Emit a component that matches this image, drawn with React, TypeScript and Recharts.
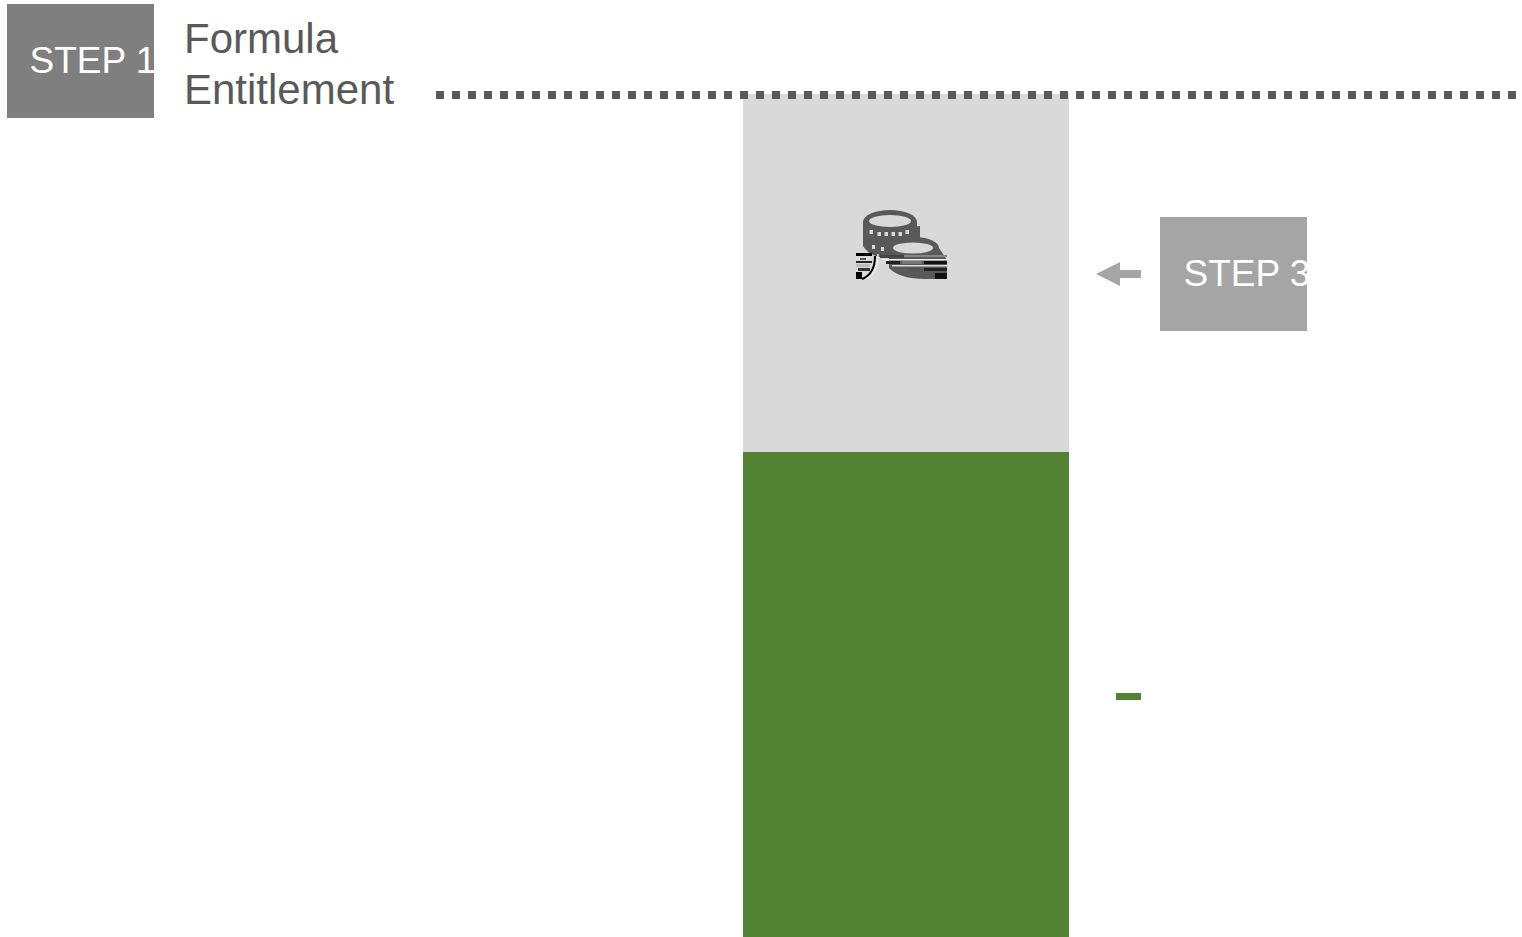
import React from "react";
import { BarChart, Bar, XAxis, YAxis, ReferenceLine } from "recharts";

const categories = ["Funding"];
const fundedValues = [485];
const remainingValues = [358];
const entitlementValue = 842;
const stepLabels = ["STEP 1", "STEP 3"];
const titleLines = ["Formula", "Entitlement"];

const data = categories.map((name, i) => ({
  name,
  funded: fundedValues[i],
  remaining: remainingValues[i],
}));

const FONT = "'Liberation Sans', Arial, sans-serif";
const GREY_TEXT = "#595959";
const GREY_BAR = "#D9D9D9";
const GREEN = "#548235";

const EntitlementLine = (props: any) => (
  <line x1={436} x2={1522} y1={props.y1} y2={props.y2} stroke={GREY_TEXT} strokeWidth={8} strokeDasharray="8 8" />
);

const Coins = () => (
  <g>
    <path d="M863 232 L863 246 Q870 258 890 258 L920 258 L920 226 Z" fill={GREY_TEXT} />
    <ellipse cx={890} cy={222} rx={27} ry={12} fill={GREY_TEXT} />
    <path d="M863 222 L863 232 Q870 244 890 244 Q910 244 917 232 L917 222 Z" fill={GREY_TEXT} />
    <ellipse cx={890} cy={221} rx={21} ry={6} fill={GREY_BAR} />
    {[871, 879, 886, 893, 900, 907].map((x, i) => (
      <rect key={x} x={x - 1.5} y={i === 0 || i === 5 ? 230 : 232} width={3.5} height={4} fill={GREY_BAR} />
    ))}
    <rect x={872} y={245} width={3} height={4} fill={GREY_BAR} />
    <rect x={881} y={247} width={3} height={4} fill={GREY_BAR} />
    <ellipse cx={914} cy={248} rx={25} ry={11} fill={GREY_TEXT} />
    <path d="M889 248 L889 268 Q900 279 925 279 L947 279 L947 260 L939 248 Z" fill={GREY_TEXT} />
    <ellipse cx={913} cy={248} rx={20} ry={5.5} fill={GREY_BAR} />
    <rect x={856} y={253} width={16} height={3} fill="#000" />
    <rect x={856} y={257} width={14} height={3} fill="#ddd" />
    <rect x={860} y={258} width={6} height={2} fill="#555" />
    <rect x={856} y={261} width={16} height={2} fill="#222" />
    <rect x={856} y={264} width={14} height={3} fill="#bbb" />
    <rect x={858} y={268} width={12} height={3} fill="#333" />
    <rect x={856} y={272} width={6} height={7} fill="#000" />
    <path d="M862 279 Q875 274 875 256" stroke="#000" strokeWidth={2} fill="none" />
    <path d="M866 279 Q878 274 878 254" stroke="#eee" strokeWidth={1.5} fill="none" />
    <rect x={880} y={255} width={24} height={3} fill="#444" />
    <rect x={904} y={255} width={43} height={2} fill="#888" />
    <rect x={884} y={259} width={63} height={1.5} fill="#eee" />
    <rect x={886} y={261} width={14} height={3} fill="#222" />
    <rect x={902} y={261} width={20} height={3} fill="#777" />
    <rect x={924} y={261} width={23} height={3} fill="#111" />
    <rect x={892} y={265} width={55} height={1.5} fill="#ddd" />
    <rect x={908} y={268} width={12} height={3} fill="#555" />
    <rect x={924} y={268} width={23} height={3} fill="#222" />
    <rect x={935} y={273} width={12} height={6} fill="#111" />
  </g>
);

const Annotations = () => (
  <svg width={1522} height={937} style={{ position: "absolute", left: 0, top: 0 }}>
    <defs>
      <clipPath id="step1"><rect x={7} y={4} width={147} height={114} /></clipPath>
      <clipPath id="step3"><rect x={1160} y={217} width={147} height={114} /></clipPath>
    </defs>
    <rect x={7} y={4} width={147} height={114} fill="#7F7F7F" />
    <text x={29.5} y={73} fontFamily={FONT} fontSize={37} fill="#fff" clipPath="url(#step1)">{stepLabels[0]}</text>
    <text x={184} y={53} fontFamily={FONT} fontSize={42} fill={GREY_TEXT}>{titleLines[0]}</text>
    <text x={184} y={104} fontFamily={FONT} fontSize={42} fill={GREY_TEXT}>{titleLines[1]}</text>
    <rect x={1160} y={217} width={147} height={114} fill="#A5A5A5" />
    <text x={1183.5} y={286} fontFamily={FONT} fontSize={37} fill="#fff" clipPath="url(#step3)">{stepLabels[1]}</text>
    <path d="M1096 274 L1120 262 L1120 270 L1141 270 L1141 278 L1120 278 L1120 286 Z" fill="#A5A5A5" />
    <rect x={1116} y={693} width={25} height={7} fill={GREEN} />
    <Coins />
  </svg>
);

export default function App() {
  return (
    <div style={{ position: "absolute", left: 0, top: 0, width: 1522, height: 937, overflow: "hidden" }}>
      <BarChart
        width={1522}
        height={937}
        data={data}
        barCategoryGap={0}
        margin={{ top: 94, right: 453, bottom: 0, left: 743 }}
      >
        <XAxis dataKey="name" hide />
        <YAxis hide domain={[0, 843]} />
        <Bar dataKey="funded" stackId="a" fill={GREEN} isAnimationActive={false} />
        <Bar dataKey="remaining" stackId="a" fill={GREY_BAR} isAnimationActive={false} />
        <ReferenceLine y={entitlementValue} shape={EntitlementLine} />
      </BarChart>
      <Annotations />
    </div>
  );
}
